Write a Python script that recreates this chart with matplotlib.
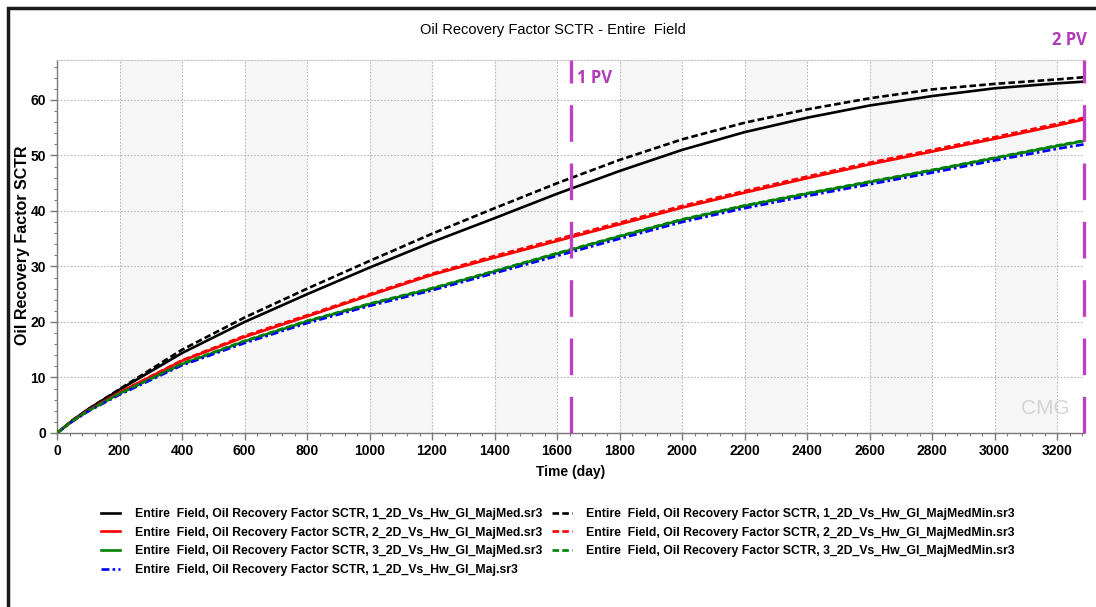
import matplotlib.pyplot as plt
from matplotlib.patches import Rectangle
from matplotlib.ticker import MultipleLocator

# Simulation output: oil recovery factor (%) vs time (days)
days = [0, 50, 100, 200, 400, 600, 800, 1000, 1200, 1400, 1600, 1800,
        2000, 2200, 2400, 2600, 2800, 3000, 3200, 3286]
rf_1_majmed = [0, 2.3, 4.3, 7.8, 14.4, 20.0, 25.0, 29.8, 34.4, 38.7, 43.1, 47.2,
               51.0, 54.2, 56.8, 59.0, 60.7, 62.1, 63.0, 63.3]
rf_1_majmedmin = [0, 2.3, 4.3, 7.9, 15.0, 20.8, 26.0, 31.0, 35.9, 40.5, 45.0, 49.2,
                  52.9, 55.9, 58.3, 60.3, 61.9, 62.9, 63.7, 64.1]
rf_2_majmed = [0, 2.2, 4.1, 7.3, 13.0, 17.3, 21.0, 24.8, 28.5, 31.6, 34.6, 37.6,
               40.6, 43.3, 45.9, 48.4, 50.7, 53.0, 55.4, 56.5]
rf_2_majmedmin = [0, 2.2, 4.1, 7.3, 13.1, 17.5, 21.2, 25.0, 28.7, 31.9, 34.9, 37.9,
                  40.9, 43.6, 46.2, 48.7, 51.0, 53.3, 55.7, 56.8]
rf_3_majmed = [0, 2.2, 4.0, 7.1, 12.4, 16.5, 20.1, 23.2, 26.0, 29.1, 32.3, 35.4,
               38.4, 40.9, 43.1, 45.2, 47.3, 49.5, 51.7, 52.6]
rf_3_majmedmin = [0, 2.2, 4.0, 7.1, 12.5, 16.6, 20.2, 23.3, 26.1, 29.2, 32.4, 35.5,
                  38.5, 41.0, 43.2, 45.3, 47.4, 49.6, 51.8, 52.7]
rf_1_maj = [0, 2.1, 3.9, 6.9, 12.2, 16.2, 19.8, 22.9, 25.7, 28.8, 31.9, 35.0,
            38.0, 40.5, 42.7, 44.8, 46.9, 49.1, 51.2, 52.0]

pv_days = [1643, 3286]
pv_labels = ['1 PV', '2 PV']

series = [
    (rf_1_majmed, 'black', '-', '1_2D_Vs_Hw_GI_MajMed.sr3'),
    (rf_2_majmed, '#ff0000', '-', '2_2D_Vs_Hw_GI_MajMed.sr3'),
    (rf_3_majmed, '#008000', '-', '3_2D_Vs_Hw_GI_MajMed.sr3'),
    (rf_1_maj, '#0000ff', (0, (3, 1.2, 1, 1.2)), '1_2D_Vs_Hw_GI_Maj.sr3'),
    (rf_1_majmedmin, 'black', (0, (2.5, 1.2)), '1_2D_Vs_Hw_GI_MajMedMin.sr3'),
    (rf_2_majmedmin, '#ff0000', (0, (2.5, 1.2)), '2_2D_Vs_Hw_GI_MajMedMin.sr3'),
    (rf_3_majmedmin, '#008000', (0, (2.5, 1.2)), '3_2D_Vs_Hw_GI_MajMedMin.sr3'),
]

font = ['Liberation Sans', 'DejaVu Sans']

fig = plt.figure(figsize=(10.96, 6.07), dpi=100)
ax = fig.add_axes([57 / 1096, 1 - 433 / 607, 1027 / 1096, 373 / 607])

# alternating shaded columns
for x0 in range(200, 3286, 400):
    ax.axvspan(x0, x0 + 200, color='#f6f6f6', zorder=0, lw=0)

ax.grid(True, which='major', color='#b8b8b8', linestyle=(0, (1.5, 1.5)), lw=0.8, zorder=1)

handles = []
for vals, col, ls, name in series:
    ln, = ax.plot(days, vals, color=col, linestyle=ls, lw=1.9, zorder=3,
                  label='Entire  Field, Oil Recovery Factor SCTR, ' + name)
    handles.append(ln)

# pore-volume markers
for d in pv_days:
    ax.axvline(d, color='#c040c4', lw=2.4, linestyle=(0, (11, 6.5)), zorder=4, clip_on=False)
ax.text(pv_days[0] + 20, 63.9, pv_labels[0], color='#b03ab8', fontsize=12,
        fontweight='bold', family='Open Sans', va='center', ha='left')
ax.text(pv_days[1] + 10, 70.8, pv_labels[1], color='#b03ab8', fontsize=12,
        fontweight='bold', family='Open Sans', va='center', ha='right', clip_on=False)

ax.set_xlim(0, 3286)
ax.set_ylim(0, 67.2)
ax.xaxis.set_major_locator(MultipleLocator(200))
ax.xaxis.set_minor_locator(MultipleLocator(40))
ax.yaxis.set_major_locator(MultipleLocator(10))
ax.yaxis.set_minor_locator(MultipleLocator(2))

ax.spines['right'].set_visible(False)
ax.spines['top'].set_color('#c8c8c8')
ax.spines['top'].set_linestyle((0, (1.5, 1.5)))
for side in ['left', 'bottom']:
    ax.spines[side].set_color('#7a7a7a')
    ax.spines[side].set_linewidth(1.0)
ax.tick_params(which='major', length=5, color='#7a7a7a', width=1, pad=3)
ax.tick_params(which='minor', length=2.5, color='#7a7a7a', width=0.8)

for lbl in ax.get_xticklabels() + ax.get_yticklabels():
    lbl.set_family(font)
    lbl.set_fontweight('bold')
    lbl.set_fontsize(10)

ax.set_xlabel('Time (day)', family=font, fontweight='bold', fontsize=10, labelpad=5)
fig.text(23 / 1096, 1 - 245 / 607, 'Oil Recovery Factor SCTR', family=font,
         fontweight='bold', fontsize=11.5, rotation=90, ha='center', va='center')
fig.text(553 / 1096, 1 - 30 / 607, 'Oil Recovery Factor SCTR - Entire  Field',
         family=font, fontsize=10.5, ha='center', va='center')

# faint software watermark
ax.text(3240, 4.5, 'CMG', color='#d4d4d4', fontsize=15, family=font,
        ha='right', va='center', zorder=2)

# legend in two columns below the plot
fig.legend(handles=handles, loc='upper left', bbox_to_anchor=(96 / 1096, 1 - 503 / 607),
           ncol=2, frameon=False, prop={'family': font, 'size': 8.8, 'weight': 'bold'},
           handlelength=1.6, handletextpad=1.2, columnspacing=0.8, labelspacing=0.55,
           borderaxespad=0)

# outer frame
fig.patches.append(Rectangle((8 / 1096, -0.2), 2, 1.2 - 8 / 607, transform=fig.transFigure,
                             fill=False, edgecolor='#1a1a1a', lw=2.5, zorder=10))

fig.savefig('out.png', dpi=100)
